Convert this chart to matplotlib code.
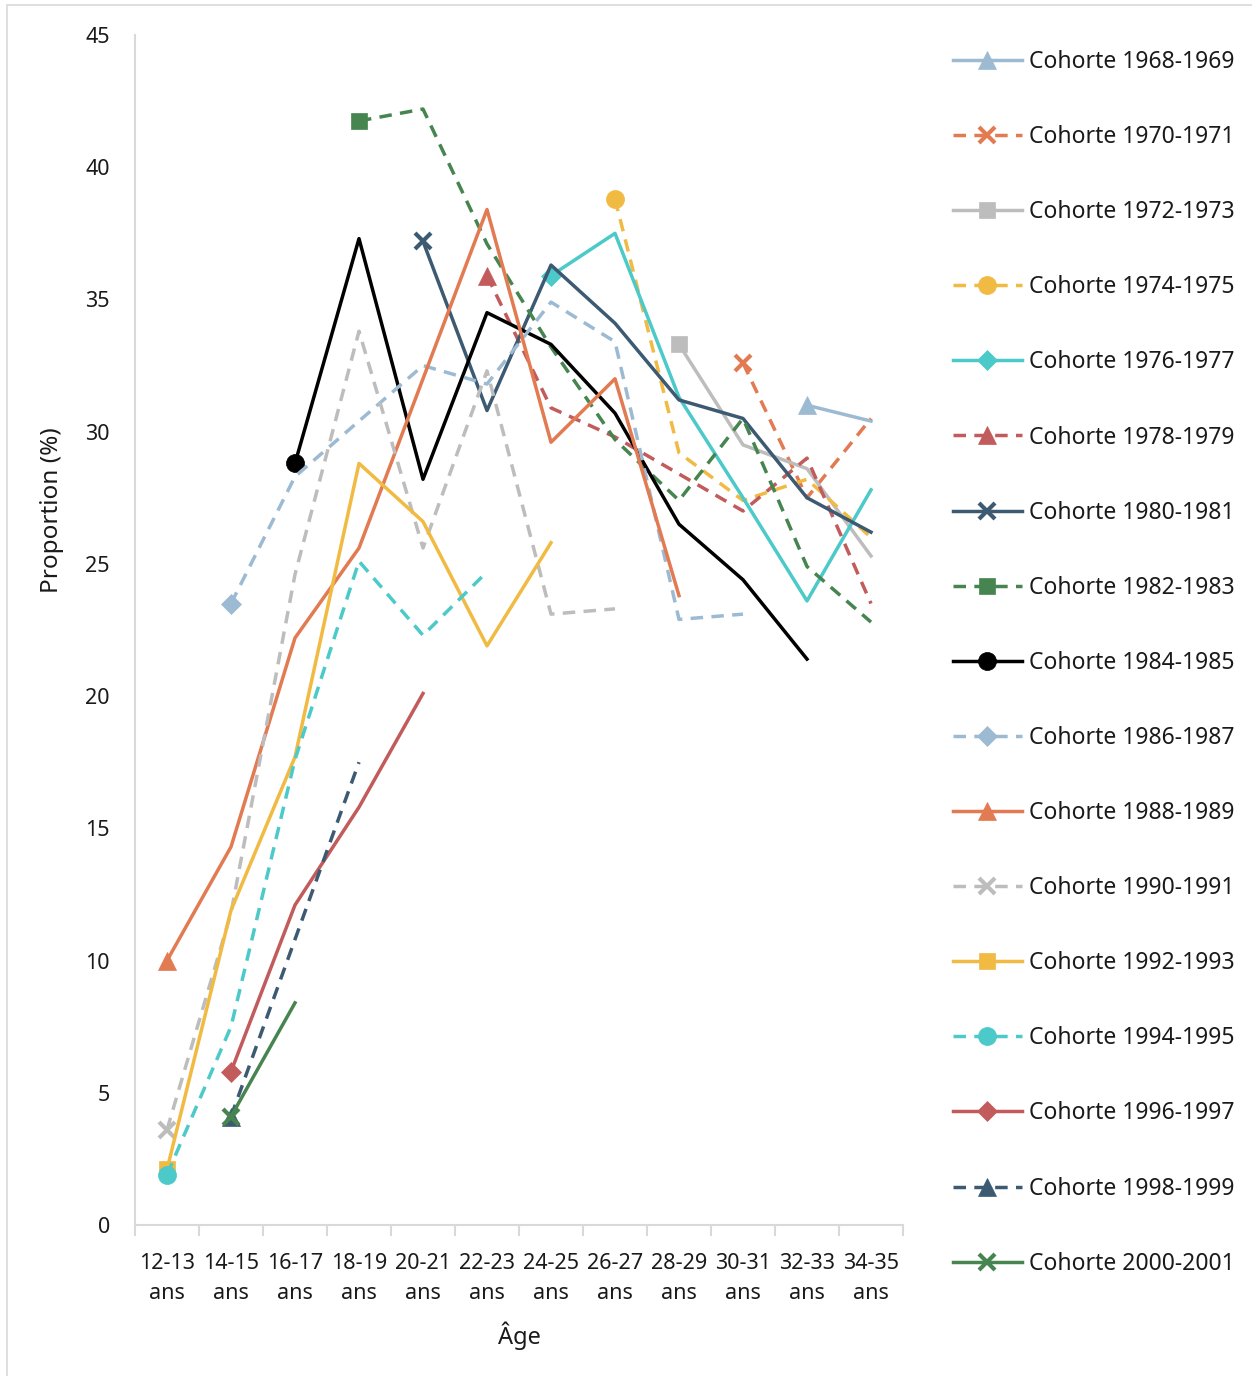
import matplotlib.pyplot as plt
from matplotlib.patches import Rectangle

plt.rcParams["font.family"] = ["Noto Sans", "DejaVu Sans"]

# age groups on the x axis
ages = ["12-13", "14-15", "16-17", "18-19", "20-21", "22-23",
        "24-25", "26-27", "28-29", "30-31", "32-33", "34-35"]
age_labels = [a + "\nans" for a in ages]

cohorts = ["1968-1969", "1970-1971", "1972-1973", "1974-1975", "1976-1977",
           "1978-1979", "1980-1981", "1982-1983", "1984-1985", "1986-1987",
           "1988-1989", "1990-1991", "1992-1993", "1994-1995", "1996-1997",
           "1998-1999", "2000-2001"]

# first age group observed for each cohort
first_age = ["32-33", "30-31", "28-29", "26-27", "24-25", "22-23", "20-21",
             "18-19", "16-17", "14-15", "12-13", "12-13", "12-13", "12-13",
             "14-15", "14-15", "14-15"]

# proportion (%) per cohort, from its first age group onward
p1968 = [31.0, 30.4]
p1970 = [32.6, 27.5, 30.5]
p1972 = [33.3, 29.5, 28.6, 25.3]
p1974 = [38.8, 29.2, 27.4, 28.2, 26.0]
p1976 = [35.9, 37.5, 31.3, 27.5, 23.6, 27.8]
p1978 = [35.9, 30.9, 29.8, 28.4, 27.0, 29.0, 23.5]
p1980 = [37.2, 30.8, 36.3, 34.1, 31.2, 30.5, 27.5, 26.2]
p1982 = [41.75, 42.2, 37.1, 33.2, 29.7, 27.4, 30.5, 24.9, 22.8]
p1984 = [28.8, 37.3, 28.2, 34.5, 33.3, 30.7, 26.5, 24.4, 21.4]
p1986 = [23.5, 28.3, 30.4, 32.5, 31.8, 34.9, 33.4, 22.9, 23.1]
p1988 = [10.0, 14.3, 22.2, 25.6, 32.0, 38.4, 29.6, 32.0, 23.8]
p1990 = [3.6, 11.8, 24.6, 33.8, 25.6, 32.3, 23.1, 23.3]
p1992 = [2.1, 11.9, 17.7, 28.8, 26.6, 21.9, 25.8]
p1994 = [1.9, 7.5, 17.6, 25.1, 22.3, 24.7]
p1996 = [5.8, 12.1, 15.8, 20.1]
p1998 = [4.1, 10.8, 17.5]
p2000 = [4.1, 8.4]

series = [p1968, p1970, p1972, p1974, p1976, p1978, p1980, p1982, p1984,
          p1986, p1988, p1990, p1992, p1994, p1996, p1998, p2000]

LBLUE, ORANGE, GREY, YELLOW = "#9DBAD3", "#E27A52", "#BDBDBD", "#F1BA43"
TEAL, RED, NAVY, GREEN = "#4CC9C9", "#C25B5B", "#3D5A73", "#46854F"
colors = [LBLUE, ORANGE, GREY, YELLOW, TEAL, RED, NAVY, GREEN, "#000000",
          LBLUE, ORANGE, GREY, YELLOW, TEAL, RED, NAVY, GREEN]
dashed = [False, True] * 8 + [False]
markers = ["^", "x", "s", "o", "D"] * 4
msize = {"^": 13, "o": 13, "x": 12, "s": 11.5, "D": 10.5}

fig = plt.figure(figsize=(12.52, 13.76), dpi=100)
ax = fig.add_axes([135 / 1252, 1 - 1225 / 1376, 768 / 1252, 1190 / 1376])

for i, (name, vals) in enumerate(zip(cohorts, series)):
    start = ages.index(first_age[i])
    x = list(range(start, start + len(vals)))
    mk = markers[i]
    ax.plot(x, vals, color=colors[i], lw=2.5,
            linestyle=(0, (3.6, 2.4)) if dashed[i] else "-",
            marker=mk, markevery=[0], markersize=msize[mk],
            markeredgewidth=3 if mk == "x" else 0.5,
            markeredgecolor=colors[i], markerfacecolor=colors[i],
            label="Cohorte " + name, zorder=3)

ax.set_xlim(-0.5, len(ages) - 0.5)
ax.set_ylim(0, 45)
ax.set_yticks(range(0, 46, 5))
ax.set_xticks(range(len(ages)))
ax.set_xticklabels(age_labels, linespacing=1.6)
ax.set_xticks([i - 0.5 for i in range(len(ages) + 1)], minor=True)

for side in ["top", "right"]:
    ax.spines[side].set_visible(False)
for side in ["left", "bottom"]:
    ax.spines[side].set_color("#D9D9D9")
    ax.spines[side].set_linewidth(1.5)

ax.tick_params(axis="x", which="major", length=0, pad=20, labelsize=15.5,
               labelcolor="#1a1a1a")
ax.tick_params(axis="x", which="minor", length=8, width=1.5, color="#D9D9D9")
ax.tick_params(axis="y", length=0, pad=18, labelsize=15.5, labelcolor="#1a1a1a")

ax.set_xlabel("Âge", fontsize=17, color="#1a1a1a", labelpad=12)
ax.set_ylabel("Proportion (%)", fontsize=17.5, color="#1a1a1a")
ax.yaxis.set_label_coords(-0.093, 0.601)

fig.legend(loc="upper left", bbox_to_anchor=(953 / 1252, 1 - 50 / 1376),
           frameon=False, fontsize=16.5, handlelength=3.0, handletextpad=0.3,
           labelspacing=2.23, borderpad=0, borderaxespad=0, numpoints=1,
           labelcolor="#1a1a1a")

# thin chart-area border along the top and left edges
fig.patches.append(Rectangle((7 / 1252, -0.1), 1.2, 1.1 - 5 / 1376,
                             transform=fig.transFigure, fill=False,
                             edgecolor="#D9D9D9", lw=1.2))

fig.savefig("out.png", dpi=100)
